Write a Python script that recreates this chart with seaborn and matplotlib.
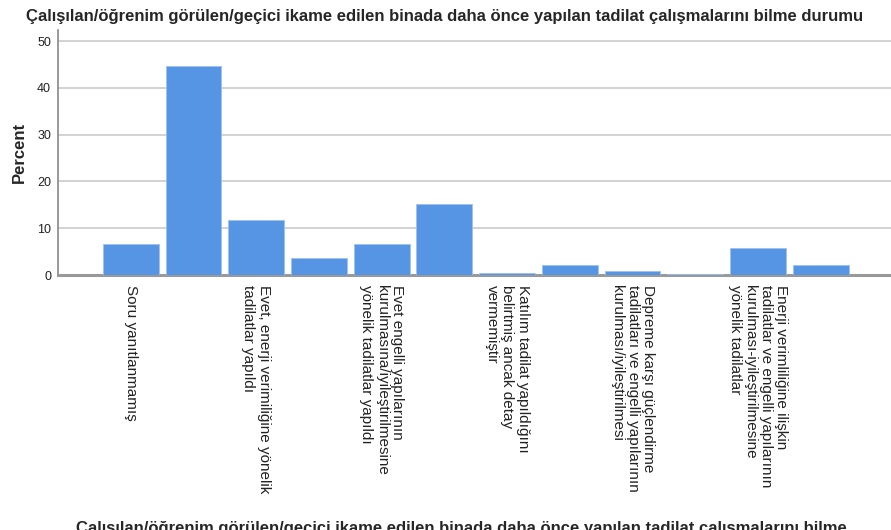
"""SPSS-style percent bar chart: prior renovation awareness."""

import matplotlib
matplotlib.use("Agg")
import matplotlib.pyplot as plt
import seaborn as sns
import pandas as pd

TITLE = ("Çalışılan/öğrenim görülen/geçici ikame edilen binada daha önce "
         "yapılan tadilat çalışmalarını bilme durumu")
XLABEL = ("Çalışılan/öğrenim görülen/geçici ikame edilen binada daha önce "
          "yapılan tadilat çalışmalarını bilme")

# category codes in the order drawn; only every other label is printed
codes = list(range(1, 13))
labels = [
    "Soru yanıtlanmamış",
    "",
    "Evet, enerji verimiliğine yönelik\ntadilatlar yapıldı",
    "",
    "Evet engelli yapılarının\nkurulmasına/iyileştirilmesine\nyönelik tadilatlar yapıldı",
    "",
    "Katılım tadilat yapıldığını\nbelirtmiş ancak detay\nvermemiştir",
    "",
    "Depreme karşı güçlendirme\ntadilatları ve engelli yapılarının\nkurulması/iyileştirilmesi",
    "",
    "Enerji verimliliğine ilişkin\ntadilatlar ve engelli yapılarının\nkurulması-iyileştirilmesine\nyönelik tadilatlar",
    "",
]
percent = [6.6, 44.6, 11.8, 3.6, 6.6, 15.1, 0.4, 2.2, 0.9, 0.3, 5.8, 2.2]
yticks = [0, 10, 20, 30, 40, 50]

sns.set_style("white")
plt.rcParams["font.family"] = ["Liberation Sans", "DejaVu Sans"]

df = pd.DataFrame({"code": codes, "percent": percent})

fig = plt.figure(figsize=(8.91, 5.30), dpi=100)
ax = fig.add_axes([58 / 891, 1 - 275 / 530, 1 - 58 / 891, (275 - 30) / 530])

sns.barplot(data=df, x="code", y="percent", order=codes, color="#5694E4",
            saturation=1, width=0.89, edgecolor="#9dc1f0", linewidth=0.6,
            ax=ax, zorder=3)

ax.set_xlim(-1.16, 12.12)
ax.set_ylim(0, 52.4)
ax.set_yticks(yticks)
ax.set_yticklabels([str(t) for t in yticks], fontsize=9, color="#222222")
ax.yaxis.grid(True, color="#d2d2d2", linewidth=1.4, zorder=0)
ax.set_axisbelow(True)

ax.set_xticks(range(len(codes)))
ax.set_xticklabels(labels, rotation=270, ha="center", va="top",
                   multialignment="left", fontsize=11, color="#222222",
                   linespacing=1.15)
ax.tick_params(axis="both", length=0, pad=5)
ax.tick_params(axis="x", pad=7)

for side in ("top", "right"):
    ax.spines[side].set_visible(False)
ax.spines["left"].set_color("#888888")
ax.spines["left"].set_linewidth(1.2)
ax.spines["bottom"].set_color("#999999")
ax.spines["bottom"].set_linewidth(2.2)

ax.set_xlabel("")
ax.set_ylabel("Percent", fontsize=12, fontweight="bold", labelpad=10)
ax.yaxis.set_label_coords(-0.037, 0.5)

fig.text(445 / 891, 1 - 16 / 530, TITLE, ha="center", va="center",
         fontsize=12, fontweight="bold")
# the reference shows this axis title clipped by the bottom edge
fig.text(461 / 891, 1 - 521 / 530, XLABEL, ha="center", va="top",
         fontsize=12, fontweight="bold")

fig.savefig("out.png", dpi=100)
plt.close(fig)
